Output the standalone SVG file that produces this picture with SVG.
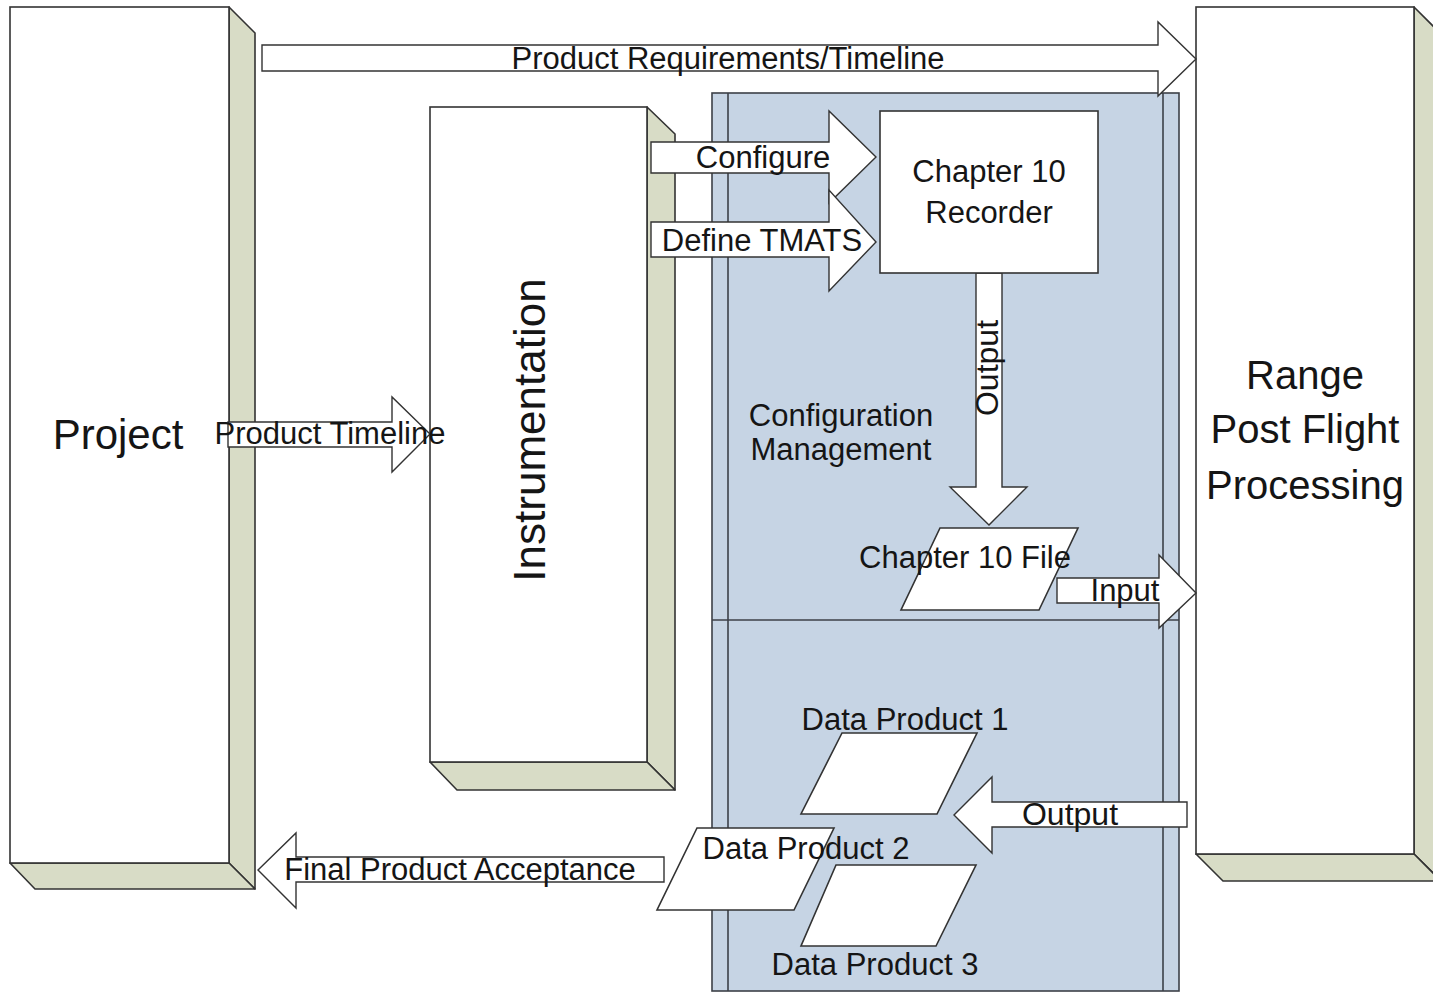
<svg xmlns="http://www.w3.org/2000/svg" width="1433" height="993" viewBox="0 0 1433 993">
<style>
.face{fill:#ffffff;stroke:#333;stroke-width:1.6}
.ext{fill:#d8dcc6;stroke:#333;stroke-width:1.6;stroke-linejoin:round}
.blue{fill:#c6d4e4;stroke:#3c4048;stroke-width:1.6}
.ln{fill:none;stroke:#3c4048;stroke-width:1.6}
.arr{fill:#ffffff;stroke:#333;stroke-width:1.4;stroke-linejoin:miter}
.shape{fill:#ffffff;stroke:#333;stroke-width:1.6}
text{font-family:"Liberation Sans",Arial,sans-serif;fill:#151515;text-anchor:middle}
.s{font-size:31px}
.l{font-size:40px}
</style>
<rect width="1433" height="993" fill="#ffffff"/>

<g id="config-management">
<rect class="blue" x="712" y="93" width="467" height="898"/>
<line class="ln" x1="728" y1="93" x2="728" y2="991"/>
<line class="ln" x1="1163" y1="93" x2="1163" y2="991"/>
<line class="ln" x1="712" y1="620" x2="1179" y2="620"/>
<text class="s" x="841" y="426">Configuration</text>
<text class="s" x="841" y="460">Management</text>
</g>

<g id="project">
<polygon class="ext" points="229,7 255,33 255,889 229,863"/>
<polygon class="ext" points="10,863 229,863 255,889 35,889"/>
<rect class="face" x="10" y="7" width="219" height="856"/>
<text style="font-size:42px" x="118" y="449">Project</text>
</g>

<g id="range">
<polygon class="ext" points="1414,7 1441,34 1441,881 1414,854"/>
<polygon class="ext" points="1196,854 1414,854 1441,881 1223,881"/>
<rect class="face" x="1196" y="7" width="218" height="847"/>
<text class="l" x="1305" y="389">Range</text>
<text class="l" x="1305" y="443">Post Flight</text>
<text class="l" x="1305" y="499">Processing</text>
</g>

<g id="instrumentation">
<polygon class="ext" points="647,107 675,134 675,790 647,762"/>
<polygon class="ext" points="430,762 647,762 675,790 457,790"/>
<rect class="face" x="430" y="107" width="217" height="655"/>
<text style="font-size:44px" transform="translate(545,430) rotate(-90)" x="0" y="0">Instrumentation</text>
</g>

<g id="connectors">
<polygon class="arr" points="262,45 1158,45 1158,22 1196,59 1158,96 1158,71 262,71"/>
<polygon class="arr" points="228,422 392,422 392,397 430,434 392,472 392,447 228,447"/>
<polygon class="arr" points="651,142 829,142 829,111 876,157 829,203 829,173 651,173"/>
<polygon class="arr" points="651,222 829,222 829,190 876,242 829,291 829,257 651,257"/>
<polygon class="arr" points="976,273 1002,273 1002,487 1027,487 989,525 950,487 976,487"/>
<polygon class="arr" points="1057,578 1159,578 1159,555 1196,593 1159,628 1159,603 1057,603"/>
<polygon class="arr" points="1187,802 992,802 992,777 954,815 992,853 992,827 1187,827"/>
<polygon class="arr" points="664,857 296,857 296,833 258,870 296,908 296,882 664,882"/>
</g>

<g id="recorder">
<rect class="shape" x="880" y="111" width="218" height="162"/>
<text class="s" x="989" y="182">Chapter 10</text>
<text class="s" x="989" y="223">Recorder</text>
</g>

<g id="chapter10-file">
<polygon class="shape" points="940,528 1078,528 1039,610 901,610"/>
<text class="s" x="965" y="568">Chapter 10 File</text>
</g>

<g id="data-product-1">
<polygon class="shape" points="842,733 977,733 937,814 801,814"/>
<text class="s" x="905" y="730">Data Product 1</text>
</g>

<g id="data-product-2">
<polygon class="shape" points="697,828 834,828 794,910 657,910"/>
<text class="s" x="806" y="859">Data Product 2</text>
</g>

<g id="data-product-3">
<polygon class="shape" points="836,865 976,865 936,946 801,946"/>
<text class="s" x="875" y="975">Data Product 3</text>
</g>

<g id="labels">
<text class="s" x="728" y="69">Product Requirements/Timeline</text>
<text class="s" x="330" y="444">Product Timeline</text>
<text class="s" x="763" y="168">Configure</text>
<text class="s" x="762" y="251">Define TMATS</text>
<text style="font-size:32px" transform="translate(998,368) rotate(-90)" x="0" y="0">Output</text>
<text class="s" x="1125" y="601">Input</text>
<text style="font-size:32px" x="1070" y="825">Output</text>
<text class="s" x="460" y="880">Final Product Acceptance</text>
</g>
</svg>
